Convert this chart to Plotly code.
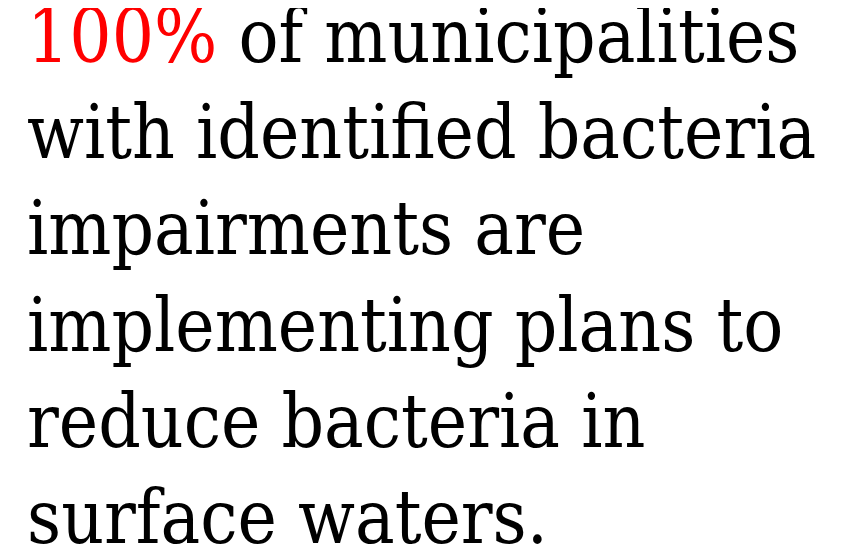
import plotly.graph_objects as go

highlight_value = "100%"
highlight_color = "#ff0000"
lines = [
    " of municipalities",
    "with identified bacteria",
    "impairments are",
    "implementing plans to",
    "reduce bacteria in",
    "surface waters.",
]

text = f'<span style="color:{highlight_color}">{highlight_value}</span>' + lines[0] + "<br>" + "<br>".join(lines[1:])

fig = go.Figure()
fig.add_annotation(
    x=0, y=1, xref="paper", yref="paper",
    xanchor="left", yanchor="top", align="left",
    xshift=17, yshift=17,
    text=text, showarrow=False,
    font=dict(family="DejaVu Serif Condensed", size=74, color="#000000"),
)
fig.update_layout(
    width=848, height=551,
    margin=dict(l=0, r=0, t=0, b=0),
    paper_bgcolor="white", plot_bgcolor="white",
    xaxis=dict(visible=False), yaxis=dict(visible=False),
    showlegend=False,
)
fig.write_html("out.html")
